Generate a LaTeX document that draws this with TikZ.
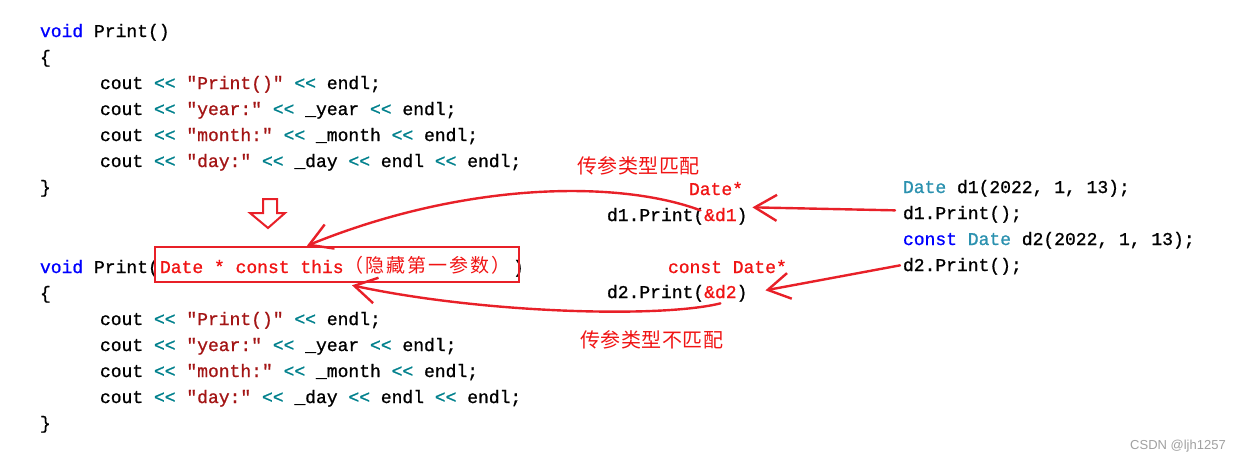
\documentclass[tikz,border=0pt]{standalone}
\usepackage{fontspec}
\setmonofont{Liberation Mono}[FakeBold=1]
\newfontfamily\cjk{Noto Sans CJK SC}
\newfontfamily\wmfont{Liberation Sans}
\usetikzlibrary{arrows.meta}
\definecolor{kwc}{RGB}{0,0,255}
\definecolor{tyc}{RGB}{43,145,175}
\definecolor{strc}{RGB}{163,21,21}
\definecolor{opc}{RGB}{0,128,140}
\definecolor{annred}{RGB}{240,20,20}
\definecolor{linered}{RGB}{232,32,40}
\definecolor{wmgray}{RGB}{160,160,160}
\makeatletter
\newcommand\cjkspread[3]{{\cjk\fontsize{#2}{#2}\selectfont\@tfor\cj@ch:=#3\do{\makebox[#1][c]{\cj@ch}}}}
\makeatother
\newcommand\opx{\textcolor{opc}{<<}}
\newcommand\strx[1]{\textcolor{strc}{#1}}
\newcommand\kwx[1]{\textcolor{kwc}{#1}}
\newcommand\tyx[1]{\textcolor{tyc}{#1}}
\newcommand\redx[1]{\textcolor{annred}{#1}}
\tikzset{
  code/.style={anchor=base west, inner sep=0pt, outer sep=0pt, text=black,
    font=\ttfamily\fontsize{18}{22}\selectfont},
  anncode/.style={code, text=annred},
  cnote/.style={anchor=base west, inner sep=0pt, outer sep=0pt, text=annred},
  link/.style={draw=linered, line width=2.4pt, line cap=round,
    -{Straight Barb[length=22pt,width=26pt]}},
  redbox/.style={draw=linered, line width=2.6pt, inner sep=0pt,
    minimum width=364pt, minimum height=35pt},
  hollowarrow/.style={draw=linered, line width=2pt, line join=miter},
  watermark/.style={anchor=base west, inner sep=0pt, text=wmgray,
    font=\wmfont\fontsize{13}{15}\selectfont}
}
\begin{document}
\begin{tikzpicture}[x=1pt,y=-1pt]
\useasboundingbox (0,0) rectangle (1236,461);
% first function
\node[code] (a0) at (40,37) {\kwx{void} Print()};
\node[code] (a1) at (40,63) {\{};
\node[code] (a2) at (100,89) {cout \opx{} \strx{"Print()"} \opx{} endl;};
\node[code] (a3) at (100,115) {cout \opx{} \strx{"year:"} \opx{} \_year \opx{} endl;};
\node[code] (a4) at (100,141) {cout \opx{} \strx{"month:"} \opx{} \_month \opx{} endl;};
\node[code] (a5) at (100,167) {cout \opx{} \strx{"day:"} \opx{} \_day \opx{} endl \opx{} endl;};
\node[code] (a6) at (40,193) {\}};
% hollow down arrow
\draw[hollowarrow] (263,199) -- (277,199) -- (277,213) -- (285,213) -- (268,228) -- (250,213) -- (263,213) -- cycle;
% second function
\node[code] (b0) at (40,273) {\kwx{void} Print(};
\node[anncode] (b0r) at (160,273) {Date * const this};
\node[cnote] (b0c) at (344,272) {\cjkspread{20.9pt}{19}{（隐藏第一参数）}};
\node[code] (b0e) at (513,273) {)};
\node[redbox] (rbox) at (337,264.5) {};
\node[code] (b1) at (40,299) {\{};
\node[code] (b2) at (100,325) {cout \opx{} \strx{"Print()"} \opx{} endl;};
\node[code] (b3) at (100,351) {cout \opx{} \strx{"year:"} \opx{} \_year \opx{} endl;};
\node[code] (b4) at (100,377) {cout \opx{} \strx{"month:"} \opx{} \_month \opx{} endl;};
\node[code] (b5) at (100,403) {cout \opx{} \strx{"day:"} \opx{} \_day \opx{} endl \opx{} endl;};
\node[code] (b6) at (40,429) {\}};
% right block
\node[code] (r1) at (903,193) {\tyx{Date} d1(2022, 1, 13);};
\node[code] (r2) at (903,219) {d1.Print();};
\node[code] (r3) at (903,245) {\kwx{const} \tyx{Date} d2(2022, 1, 13);};
\node[code] (r4) at (903,271) {d2.Print();};
% middle
\node[cnote] (n1) at (577,173) {\cjkspread{20.5pt}{20}{传参类型匹配}};
\node[anncode] (t1) at (689,195) {Date*};
\node[code] (m1) at (607,221) {d1.Print(\redx{\&d1})};
\node[anncode] (t2) at (668,273) {const Date*};
\node[code] (m2) at (607,298) {d2.Print(\redx{\&d2})};
\node[cnote] (n2) at (580,347) {\cjkspread{20.5pt}{20}{传参类型不匹配}};
% connectors
\draw[link] ([xshift=-8pt,yshift=4pt]r2.west) -- ([xshift=5pt,yshift=9pt]m1.east);
\draw[link] ([xshift=-47pt,yshift=6pt]m1.east) .. controls +(-80,-30) and +(160,-65) .. ([xshift=-30pt]rbox.north);
\draw[link] ([xshift=-3pt,yshift=1pt]r4.west) -- ([xshift=18pt,yshift=3pt]m2.east);
\draw[link] ([xshift=-27pt,yshift=-10pt]m2.east) .. controls +(-60,15) and +(130,28) .. ([xshift=15pt,yshift=-2pt]rbox.south);
% watermark
\node[watermark] (wm) at (1130,449) {CSDN @ljh1257};
\end{tikzpicture}
\end{document}
